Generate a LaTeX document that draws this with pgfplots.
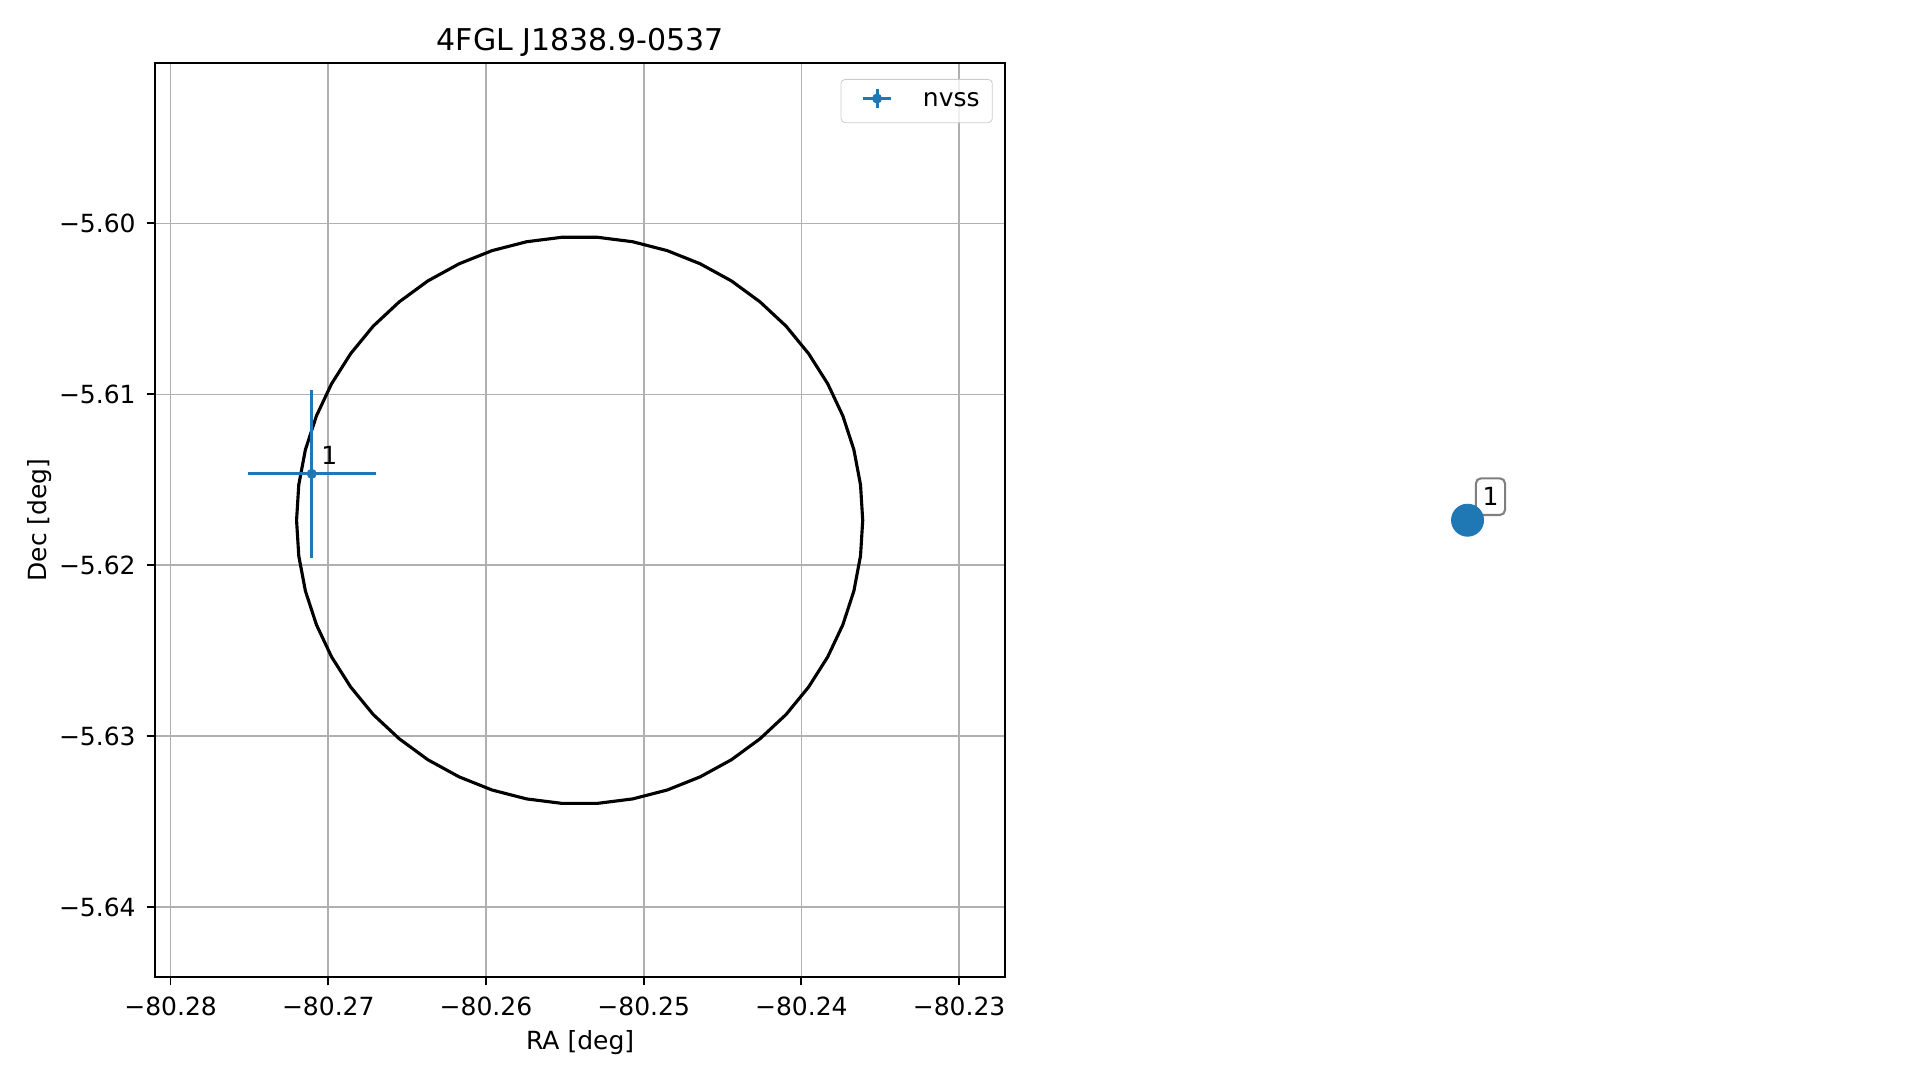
\documentclass[border=0pt]{standalone}
\usepackage{pgfplots}
\pgfplotsset{compat=1.18}
\usepackage{fontspec}
\setmainfont{DejaVu Sans}
\definecolor{tabblue}{HTML}{1F77B4}
\begin{document}
\begin{tikzpicture}
\useasboundingbox (0,0) rectangle (921.1pt,518.4pt);
\begin{axis}[
  at={(74.6pt,49.6pt)}, anchor=south west,
  scale only axis, width=407.7pt, height=438.5pt,
  x coord trafo/.code={\pgfmathfloatparsenumber{#1}\pgfmathfloattosci{\pgfmathresult}\edef\pgfmathresult{\fpeval{round((\pgfmathresult+80.25)*1000,5)}}},
  y coord trafo/.code={\pgfmathfloatparsenumber{#1}\pgfmathfloattosci{\pgfmathresult}\edef\pgfmathresult{\fpeval{round((\pgfmathresult+5.6)*1000,5)}}},
  xmin=-80.28096, xmax=-80.22710, ymin=-5.64407, ymax=-5.59062,
  xtick={-80.28,-80.27,-80.26,-80.25,-80.24,-80.23},
  xticklabels={−80.28,−80.27,−80.26,−80.25,−80.24,−80.23},
  ytick={-5.64,-5.63,-5.62,-5.61,-5.60},
  yticklabels={−5.64,−5.63,−5.62,−5.61,−5.60},
  scaled ticks=false,
  tick align=outside, major tick length=4.2pt,
  xtick pos=left, ytick pos=left,
  every tick/.style={black, line width=0.9pt},
  axis line style={black, line width=0.9pt},
  tick label style={font=\fontsize{12}{14}\selectfont, inner sep=0pt},
  xticklabel style={anchor=north, yshift=-5.1pt},
  yticklabel style={anchor=east, xshift=-5.1pt},
  grid=major, major grid style={color=black!31, line width=0.8pt},
  title={4FGL J1838.9-0537},
  title style={at={(axis description cs:0.5,1)}, anchor=base, yshift=-0.1pt, inner sep=0pt, font=\fontsize{14.4}{17}\selectfont},
  xlabel={RA [deg]}, ylabel={Dec [deg]},
  xlabel style={at={(axis description cs:0.5,-0.0724)}, anchor=center, font=\fontsize{12}{14}\selectfont},
  ylabel style={at={(axis description cs:-0.136,0.5)}, anchor=center, font=\fontsize{12}{14}\selectfont},
  legend style={at={(axis description cs:1,1)}, anchor=north east, xshift=-5.8pt, yshift=-7.6pt,
    draw=black!20, rounded corners=2pt, fill=white, fill opacity=0.8, text opacity=1,
    inner sep=0pt, nodes={inner sep=0pt}, column sep=0pt,
    font=\fontsize{12}{14}\selectfont},
  legend cell align=left,
]
\addplot[black, line width=1.5pt, forget plot] coordinates {
(-80.23611,-5.61737) (-80.23625,-5.61529) (-80.23667,-5.61324) (-80.23737,-5.61126)
(-80.23833,-5.60938) (-80.23954,-5.60762) (-80.24097,-5.60601) (-80.24262,-5.60459)
(-80.24444,-5.60336) (-80.24642,-5.60236) (-80.24851,-5.60159) (-80.25070,-5.60107)
(-80.25293,-5.60081) (-80.25519,-5.60081) (-80.25742,-5.60107) (-80.25961,-5.60159)
(-80.26170,-5.60236) (-80.26368,-5.60336) (-80.26550,-5.60459) (-80.26715,-5.60601)
(-80.26858,-5.60762) (-80.26979,-5.60938) (-80.27075,-5.61126) (-80.27145,-5.61324)
(-80.27187,-5.61529) (-80.27201,-5.61737) (-80.27187,-5.61945) (-80.27145,-5.62150)
(-80.27075,-5.62348) (-80.26979,-5.62536) (-80.26858,-5.62712) (-80.26715,-5.62873)
(-80.26550,-5.63015) (-80.26368,-5.63138) (-80.26170,-5.63238) (-80.25961,-5.63315)
(-80.25742,-5.63367) (-80.25519,-5.63393) (-80.25293,-5.63393) (-80.25070,-5.63367)
(-80.24851,-5.63315) (-80.24642,-5.63238) (-80.24444,-5.63138) (-80.24262,-5.63015)
(-80.24097,-5.62873) (-80.23954,-5.62712) (-80.23833,-5.62536) (-80.23737,-5.62348)
(-80.23667,-5.62150) (-80.23625,-5.61945) (-80.23611,-5.61737)
};
\addplot[tabblue, line width=1.5pt, forget plot] coordinates {(-80.27512,-5.61465) (-80.26698,-5.61465)};
\addplot[tabblue, line width=1.5pt, forget plot] coordinates {(-80.27105,-5.61956) (-80.27105,-5.60974)};
\addplot[only marks, mark=*, mark size=2.2pt, tabblue, mark options={draw=tabblue, fill=tabblue}, forget plot]
  coordinates {(-80.27105,-5.61465)}
  node[anchor=base west, xshift=4.4pt, yshift=4.5pt, inner sep=0pt, text=black, font=\fontsize{12}{14}\selectfont]{1};
\addlegendimage{legend image code/.code={
  \path[draw=none, fill=none] (-10.7pt,-10.4pt) rectangle (28.6pt,10.4pt);
  \draw[tabblue, draw opacity=1, line width=1.5pt] (0pt,1.2pt) -- (13.2pt,1.2pt);
  \draw[tabblue, draw opacity=1, line width=1.5pt] (6.6pt,-3.3pt) -- (6.6pt,5.7pt);
  \fill[tabblue, fill opacity=1] (6.6pt,1.2pt) circle (2.2pt);
}}
\addlegendentry{nvss\kern6.1pt}
\end{axis}
\begin{axis}[
  at={(704.4pt,268.7pt)}, anchor=center,
  scale only axis, width=300pt, height=437.7pt,
  hide axis, xmin=-1, xmax=1, ymin=-1, ymax=1,
]
\addplot[only marks, mark=*, mark size=7.7pt, tabblue, mark options={draw=tabblue, fill=tabblue}]
  coordinates {(0,0)}
  node[xshift=11pt, yshift=11.3pt, draw=black, draw opacity=0.5, fill=white, fill opacity=0.5, text opacity=1,
       rounded corners=2.5pt, line width=1pt, inner xsep=3.2pt, inner ysep=4.4pt, text height=8.8pt, text depth=0pt,
       text=black, font=\fontsize{12}{14}\selectfont]{1};
\end{axis}
\end{tikzpicture}
\end{document}
